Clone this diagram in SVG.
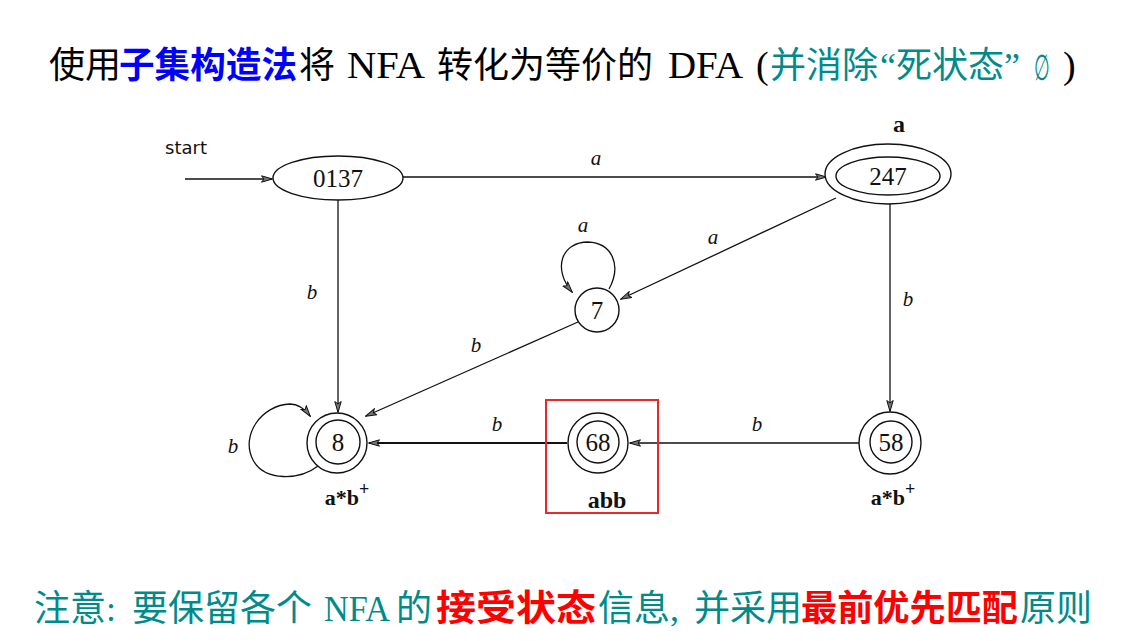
<svg xmlns="http://www.w3.org/2000/svg" width="1129" height="641" viewBox="0 0 1129 641">
<defs>
<marker id="arr" viewBox="0 0 12 8" refX="11" refY="4" markerWidth="12" markerHeight="8" markerUnits="userSpaceOnUse" orient="auto">
<path d="M0.5,0.8 L11.5,4 L0.5,7.2 L3,4 Z" fill="#777" stroke="#111" stroke-width="1"/>
</marker>
<style>
.ln{fill:none;stroke:#111;stroke-width:1.3}
.nd{fill:#fff;stroke:#111;stroke-width:1.4}
.nt{font-family:"Liberation Serif",serif;font-size:25px;fill:#111;text-anchor:middle}
.st{font-family:"DejaVu Sans","Liberation Sans",sans-serif;font-size:18px;fill:#111;text-anchor:middle}
.el{font-family:"Liberation Serif",serif;font-style:italic;font-size:21px;fill:#111;text-anchor:middle}
.rl{font-family:"Liberation Serif",serif;font-weight:bold;font-size:24px;fill:#111;text-anchor:middle}
.big{font-family:"Liberation Serif","Noto Sans CJK SC",serif;font-size:36px;fill:#000}
.lat{font-size:38px}
.blue{fill:#0000ff;font-weight:bold}
.teal{fill:#008b8b}
.red{fill:#ff0000;font-weight:bold}
</style>
</defs>
<rect width="1129" height="641" fill="#fff"/>
<text class="big" y="78"><tspan x="49">使用</tspan><tspan x="119" class="blue" textLength="178" lengthAdjust="spacingAndGlyphs">子集构造法</tspan><tspan x="299">将</tspan><tspan x="347" class="lat" textLength="78" lengthAdjust="spacingAndGlyphs">NFA</tspan><tspan x="437">转化为等价的</tspan><tspan x="668" class="lat" textLength="75" lengthAdjust="spacingAndGlyphs">DFA</tspan><tspan x="756" class="lat">(</tspan><tspan x="770" class="teal">并消除</tspan><tspan x="880" class="teal">“死状态”</tspan></text>
<text x="0" y="0" transform="translate(1034,80) scale(0.7,1.4)" fill="#008b8b" style="font-family:'DejaVu Serif',serif" font-size="26">∅</text>
<text class="big lat" x="1063" y="78">)</text>
<text class="big teal" y="621"><tspan x="34">注意:</tspan><tspan x="132">要保留各个</tspan><tspan x="324" textLength="66" lengthAdjust="spacingAndGlyphs">NFA</tspan><tspan x="396">的</tspan><tspan x="436" class="red" textLength="160" lengthAdjust="spacingAndGlyphs">接受状态</tspan><tspan x="598">信息,</tspan><tspan x="694">并采用</tspan><tspan x="801" class="red" textLength="217" lengthAdjust="spacingAndGlyphs">最前优先匹配</tspan><tspan x="1020">原则</tspan></text>
<g id="connectors">
<line class="ln" x1="185" y1="179" x2="272" y2="179" marker-end="url(#arr)"/>
<text class="st" x="186" y="154">start</text>
<line class="ln" x1="403" y1="177" x2="826" y2="177" marker-end="url(#arr)"/>
<text class="el" x="596" y="165">a</text>
<line class="ln" x1="338" y1="199" x2="338" y2="412" marker-end="url(#arr)"/>
<text class="el" x="312" y="299">b</text>
<line class="ln" x1="890" y1="204" x2="890" y2="411" marker-end="url(#arr)"/>
<text class="el" x="908" y="306">b</text>
<line class="ln" x1="836" y1="198" x2="621" y2="299" marker-end="url(#arr)"/>
<text class="el" x="713" y="244">a</text>
<path class="ln" d="M609,289 C622,265 612,243 588,242 C562,242 552,268 572,292" marker-end="url(#arr)"/>
<text class="el" x="583" y="232">a</text>
<line class="ln" x1="578" y1="322" x2="366" y2="416" marker-end="url(#arr)"/>
<text class="el" x="476" y="352">b</text>
<line class="ln" x1="859" y1="443" x2="630" y2="443" marker-end="url(#arr)"/>
<text class="el" x="757" y="431">b</text>
<line class="ln" x1="567" y1="443" x2="369" y2="443" marker-end="url(#arr)" style="stroke-width:2"/>
<text class="el" x="497" y="431">b</text>
<path class="ln" d="M318,466 C300,480 265,482 253,460 C240,435 262,405 290,404 C298,404 304,408 310,416" marker-end="url(#arr)"/>
<text class="el" x="233" y="453">b</text>
</g>
<g id="n0137">
<ellipse class="nd" cx="338" cy="178" rx="65" ry="22"/>
<text class="nt" x="338" y="187">0137</text>
</g>
<g id="n247">
<ellipse class="nd" cx="888" cy="174" rx="63" ry="30"/>
<ellipse class="nd" cx="888" cy="176" rx="52" ry="19"/>
<text class="nt" x="888" y="185">247</text>
<text class="rl" x="899" y="132">a</text>
</g>
<g id="n7">
<circle class="nd" cx="597" cy="310" r="22"/>
<text class="nt" x="597" y="319">7</text>
</g>
<g id="n8">
<circle class="nd" cx="337" cy="443" r="30"/>
<circle class="nd" cx="338" cy="442" r="22"/>
<text class="nt" x="338" y="451">8</text>
<text class="rl" x="347" y="505" style="font-size:22px">a*b<tspan dy="-10" font-size="18">+</tspan></text>
</g>
<g id="n68">
<rect x="546" y="400" width="112" height="113" fill="none" stroke="#e8282b" stroke-width="2"/>
<circle class="nd" cx="598" cy="443" r="30"/>
<circle class="nd" cx="598" cy="442" r="21"/>
<text class="nt" x="598" y="451">68</text>
<text class="rl" x="607" y="508">abb</text>
</g>
<g id="n58">
<circle class="nd" cx="890" cy="443" r="31"/>
<circle class="nd" cx="891" cy="442" r="21"/>
<text class="nt" x="891" y="451">58</text>
<text class="rl" x="893" y="505" style="font-size:22px">a*b<tspan dy="-10" font-size="18">+</tspan></text>
</g>
</svg>
